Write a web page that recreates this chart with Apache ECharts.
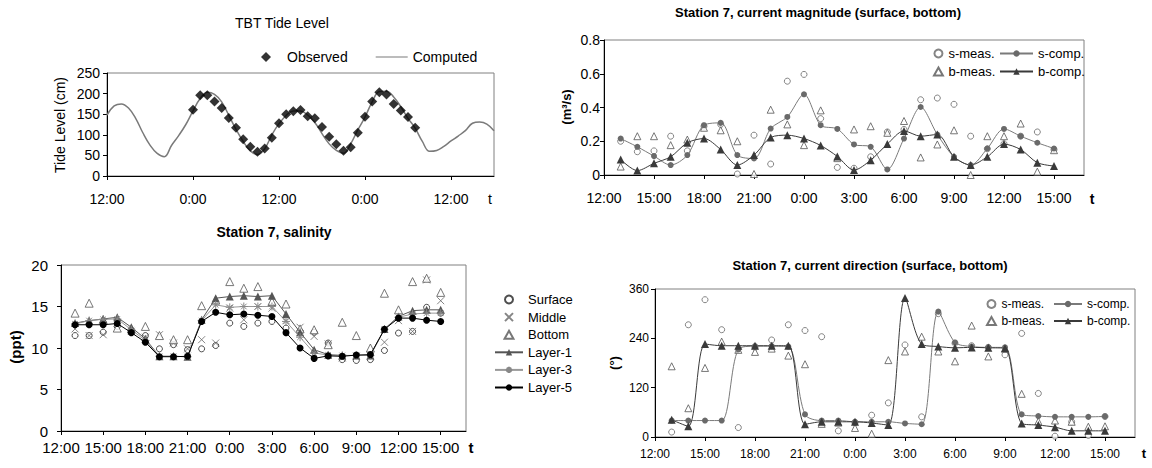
<!DOCTYPE html>
<html><head><meta charset="utf-8">
<script src="https://cdn.jsdelivr.net/npm/echarts@6/dist/echarts.min.js"></script>
<style>html,body{margin:0;padding:0;background:#fff}#c{width:1152px;height:468px}</style>
</head><body><div id="c"></div>
<script>
// ---------- Panel 1: TBT tide level (hours after 12:00 of day 1) ----------
const tideObsHours = [12,13,14,15,16,17,18,19,20,21,22,23,24,25,26,27,28,29,30,31,32,33,34,35,36,37,38,39,40,41,42,43];
const tideObs = [161,196,196,181,165,141,117,89,71,59,67,93,128,150,157,160,145,140,119,95,77,61,70,105,144,181,203,198,175,159,143,117];
const tideCompHours = [0,1,2,3,4,5,6,7,8,9,10,11,12,13,14,15,16,17,18,19,20,21,22,23,24,25,26,27,28,29,30,31,32,33,34,35,36,37,38,39,40,41,42,43,44,45,46,47,48,49,50,51,52,53,54];
const tideComp = [148,170,175,165,140,105,75,55,47,74,98,125,158,188,203,198,180,147,113,84,61,52,66,100,127,147,158,158,148,130,103,78,62,55,78,112,143,180,205,206,192,168,140,116,84,60,62,72,85,97,110,128,131,126,110];
const tideTicks = [0,12,24,36,48];
const tideTickLabels = ['12:00','0:00','12:00','0:00','12:00'];

// ---------- Panels 2-4: hours after 12:00 ----------
const hours = [1,2,3,4,5,6,7,8,9,10,11,12,13,14,15,16,17,18,19,20,21,22,23,24,25,26,27];
const clockTicks = [0,3,6,9,12,15,18,21,24,27];
const clockLabels = ['12:00','15:00','18:00','21:00','0:00','3:00','6:00','9:00','12:00','15:00'];

// Panel 2: current magnitude
const magSMeas = [0.200,0.138,0.143,0.230,0.143,0.289,0.300,0.006,0.236,0.065,0.556,0.596,0.334,0.045,0.040,0.108,0.255,0.270,0.446,0.456,0.419,0.230,0.155,0.185,0.230,0.255,0.151];
const magBMeas = [0.050,0.230,0.230,0.177,0.210,0.280,0.265,0.200,0.006,0.387,0.300,0.177,0.383,0.100,0.270,0.289,0.250,0.320,0.104,0.181,0.265,0.000,0.230,0.230,0.305,0.020,0.147];
const magSComp = [0.216,0.167,0.112,0.059,0.118,0.295,0.309,0.118,0.098,0.275,0.344,0.478,0.295,0.273,0.181,0.167,0.033,0.216,0.403,0.240,0.108,0.059,0.157,0.273,0.230,0.191,0.157];
const magBComp = [0.092,0.026,0.069,0.108,0.191,0.216,0.151,0.059,0.118,0.222,0.236,0.216,0.175,0.110,0.029,0.088,0.183,0.261,0.230,0.240,0.108,0.059,0.108,0.183,0.151,0.073,0.053];

// Panel 3: salinity
const salSurface = [11.5,11.5,11.9,12.6,11.9,11.5,9.9,10.4,9.8,9.9,10.3,13.0,12.6,13.0,13.2,12.4,12.0,11.9,10.6,8.6,8.5,8.6,9.7,11.8,12.0,14.9,14.2];
const salMiddle = [12.3,11.5,11.6,13.0,12.0,11.3,11.6,10.6,9.9,11.0,10.6,14.8,13.4,15.0,14.8,13.3,12.5,11.4,10.5,8.8,9.0,9.0,10.7,13.3,12.0,18.2,15.7];
const salBottom = [14.2,15.4,13.4,12.4,12.3,12.6,11.5,11.0,11.0,15.1,15.8,18.0,17.2,17.4,15.6,15.3,12.3,12.2,10.4,13.1,11.5,10.0,16.6,14.6,18.0,18.4,16.7];
const salLayer1 = [13.0,13.3,13.5,13.7,12.5,11.1,9.0,9.0,8.95,13.4,16.0,16.2,16.3,16.2,16.3,14.1,11.9,9.8,9.2,9.1,9.1,9.1,12.3,13.8,14.5,14.6,14.6];
const salLayer3 = [12.9,13.3,13.45,13.5,12.2,10.9,9.0,9.0,8.95,13.3,15.2,14.9,15.0,15.0,15.0,13.2,11.3,9.4,9.15,9.1,9.1,9.1,12.25,13.7,14.1,14.2,14.2];
const salLayer5 = [12.8,12.8,12.8,12.95,11.85,10.7,8.95,8.95,9.0,13.2,14.3,14.0,14.1,13.95,13.8,11.85,10.0,8.75,9.05,9.0,9.15,9.2,12.25,13.6,13.6,13.35,13.2];

// Panel 4: current direction
const dirSMeas = [12,273,334,261,23,218,236,273,259,244,15,35,53,83,224,49,300,228,222,218,200,252,106,2,37,4,50];
const dirBMeas = [172,70,168,232,212,207,215,198,177,32,35,22,8,187,208,244,208,184,271,196,215,105,38,40,37,25,26];
const dirSComp = [40,40,40,40,213,221,221,220,55,40,40,37,37,37,33,31,305,230,220,218,218,55,51,49,49,49,50];
const dirBComp = [42,26,226,222,222,222,222,222,31,37,37,37,34,29,338,226,220,217,218,217,216,33,29,24,15,15,15];

// ---------- build ----------
const FONT = '"Liberation Sans", Arial, Helvetica, sans-serif';
const pair = (xs, ys) => xs.map((x, i) => [x, ys[i]]);

function xAxisOf(gi, min, max, interval, ticks, labels, fontSize, margin) {
  return {
    type: 'value', gridIndex: gi, min, max, interval,
    axisLine: {show: true, onZero: false, lineStyle: {color: '#000', width: 1}},
    axisTick: {show: true, length: 4, lineStyle: {color: '#000'}, customValues: ticks},
    axisLabel: {color: '#000', fontFamily: FONT, fontSize, margin, customValues: ticks,
      formatter: v => { const k = ticks.indexOf(Math.round(v * 100) / 100); return k >= 0 ? labels[k] : ''; }},
    splitLine: {show: false}
  };
}
function yAxisOf(gi, min, max, interval, fontSize, margin, fmt) {
  return {
    type: 'value', gridIndex: gi, min, max, interval,
    axisLine: {show: true, lineStyle: {color: '#000', width: 1}},
    axisTick: {show: true, length: 4, lineStyle: {color: '#000'}},
    axisLabel: {color: '#000', fontFamily: FONT, fontSize, margin, formatter: fmt},
    splitLine: {show: false}
  };
}

const xMark = 'path://M0,0L10,10M10,0L0,10';
const star = 'path://M5,0L5,10M0,5L10,5M1.5,1.5L8.5,8.5M8.5,1.5L1.5,8.5';
const triIcon = 'path://M5,0L10,9L0,9Z';
const diaIcon = 'path://M5,0L10,5L5,10L0,5Z';
const lineIcon = 'path://M0,0L36,0L36,1.4L0,1.4Z';

function openScatter(name, gi, data, symbol, size, stroke) {
  return {type: 'scatter', name, xAxisIndex: gi, yAxisIndex: gi, data, symbol, symbolSize: size, symbolKeepAspect: true,
    itemStyle: {color: '#fff', borderColor: stroke, borderWidth: 1}, silent: true, z: 2};
}
function compLine(name, gi, data, symbol, size, fill, stroke, smooth) {
  return {type: 'line', name, xAxisIndex: gi, yAxisIndex: gi, data, symbol, symbolSize: size,
    showSymbol: true, smooth, itemStyle: {color: fill, borderColor: fill, borderWidth: 0},
    lineStyle: {color: stroke, width: 1}, silent: true, z: 3};
}

const series = [
  // panel 1
  {type: 'line', name: 'Computed', xAxisIndex: 0, yAxisIndex: 0, data: pair(tideCompHours, tideComp),
   symbol: 'none', smooth: 0.4, lineStyle: {color: '#7a7a7a', width: 1.5}, itemStyle: {color: '#7a7a7a'}, silent: true, z: 2},
  {type: 'scatter', name: 'Observed', xAxisIndex: 0, yAxisIndex: 0, data: pair(tideObsHours, tideObs),
   symbol: 'diamond', symbolSize: 10, itemStyle: {color: '#000'}, silent: true, z: 3},
  // panel 2
  openScatter('s-meas.', 1, pair(hours, magSMeas), 'circle', 6, '#666'),
  openScatter('b-meas.', 1, pair(hours, magBMeas), 'triangle', 7, '#555'),
  compLine('s-comp.', 1, pair(hours, magSComp), 'circle', 6, '#6a6a6a', '#7a7a7a', 0.3),
  compLine('b-comp.', 1, pair(hours, magBComp), 'triangle', 8, '#3a3a3a', '#3a3a3a', 0.3),
  // panel 3
  openScatter('Surface', 2, pair(hours, salSurface), 'circle', 6, '#222'),
  {type: 'scatter', name: 'Middle', xAxisIndex: 2, yAxisIndex: 2, data: pair(hours, salMiddle), symbol: xMark, symbolSize: 7,
   itemStyle: {color: 'rgba(0,0,0,0)', borderColor: '#666', borderWidth: 1}, silent: true, z: 2},
  openScatter('Bottom', 2, pair(hours, salBottom), 'triangle', 8, '#555'),
  {type: 'line', name: 'Layer-1', xAxisIndex: 2, yAxisIndex: 2, data: pair(hours, salLayer1), symbol: 'triangle', symbolSize: 8,
   itemStyle: {color: '#555'}, lineStyle: {color: '#555', width: 1}, silent: true, z: 3},
  {type: 'line', name: 'Layer-3', xAxisIndex: 2, yAxisIndex: 2, data: pair(hours, salLayer3), symbol: star, symbolSize: 8,
   itemStyle: {color: 'rgba(0,0,0,0)', borderColor: '#888', borderWidth: 1}, lineStyle: {color: '#999', width: 1}, silent: true, z: 3},
  {type: 'line', name: 'Layer-5', xAxisIndex: 2, yAxisIndex: 2, data: pair(hours, salLayer5), symbol: 'circle', symbolSize: 7,
   itemStyle: {color: '#000'}, lineStyle: {color: '#000', width: 1}, silent: true, z: 4},
  // panel 4
  openScatter('s-meas.', 3, pair(hours, dirSMeas), 'circle', 6, '#666'),
  openScatter('b-meas.', 3, pair(hours, dirBMeas), 'triangle', 7, '#555'),
  compLine('s-comp.', 3, pair(hours, dirSComp), 'circle', 6, '#6a6a6a', '#7a7a7a', 0.3),
  compLine('b-comp.', 3, pair(hours, dirBComp), 'triangle', 8, '#3a3a3a', '#3a3a3a', 0.3)
];

function txt(text, x, y, font, rot) {
  return {type: 'text', x, y, rotation: rot || 0, silent: true,
    style: {text, x: 0, y: 0, font, fill: '#000', textAlign: 'center', textVerticalAlign: 'middle', verticalAlign: 'middle'}};
}
const R = '"Liberation Sans", Arial, sans-serif';

const legBase = {padding: 0, selectedMode: false, symbolKeepAspect: true, textStyle: {color: '#000', fontFamily: FONT, fontSize: 13}};
const L = o => Object.assign({}, legBase, o);

const option = {
  animation: false,
  backgroundColor: '#fff',
  grid: [
    {left: 107, top: 73, width: 387, height: 103, show: true, borderColor: '#808080', borderWidth: 1, backgroundColor: 'transparent'},
    {left: 604, top: 40, width: 480, height: 135, show: true, borderColor: '#808080', borderWidth: 1, backgroundColor: 'transparent'},
    {left: 61, top: 265, width: 405, height: 166, show: true, borderColor: '#808080', borderWidth: 1, backgroundColor: 'transparent'},
    {left: 655, top: 289, width: 480, height: 148, show: true, borderColor: '#808080', borderWidth: 1, backgroundColor: 'transparent'}
  ],
  xAxis: [
    xAxisOf(0, 0, 54, 12, tideTicks, tideTickLabels, 14, 16),
    xAxisOf(1, 0, 28.8, 3, clockTicks, clockLabels, 14, 16),
    xAxisOf(2, 0, 28.8, 3, clockTicks, clockLabels, 15, 9),
    xAxisOf(3, 0, 28.8, 3, clockTicks, clockLabels, 12, 11)
  ],
  yAxis: [
    yAxisOf(0, 0, 250, 50, 14, 7),
    yAxisOf(1, 0, 0.8, 0.2, 14, 4, v => v === 0 ? '0' : v.toFixed(1)),
    yAxisOf(2, 0, 20, 5, 15, 13),
    yAxisOf(3, 0, 360, 120, 12, 6)
  ],
  legend: [
    L({data: [{name: 'Observed', icon: diaIcon}, {name: 'Computed', icon: lineIcon}], left: 261, top: 50, orient: 'horizontal',
      itemWidth: 32, itemHeight: 10, itemGap: 28, textStyle: {color: '#000', fontFamily: FONT, fontSize: 14}}),
    L({data: ['s-meas.', {name: 'b-meas.', icon: triIcon}], left: 933, top: 47, orient: 'vertical', itemWidth: 10, itemHeight: 8, itemGap: 5}),
    L({data: ['s-comp.', 'b-comp.'], left: 999, top: 47, orient: 'vertical', itemWidth: 33, itemHeight: 8, itemGap: 5}),
    L({data: ['Surface', 'Middle', {name: 'Bottom', icon: triIcon}, 'Layer-1', 'Layer-3', 'Layer-5'], left: 494, top: 293, orient: 'vertical',
      itemWidth: 28, itemHeight: 8, itemGap: 4.6}),
    L({data: ['s-meas.', {name: 'b-meas.', icon: triIcon}], left: 986, top: 298, orient: 'vertical', itemWidth: 10, itemHeight: 8, itemGap: 5,
      textStyle: {color: '#000', fontFamily: FONT, fontSize: 12}}),
    L({data: ['s-comp.', 'b-comp.'], left: 1053, top: 298, orient: 'vertical', itemWidth: 28, itemHeight: 8, itemGap: 5,
      textStyle: {color: '#000', fontFamily: FONT, fontSize: 12}})
  ],
  graphic: [
    txt('TBT Tide Level', 282, 23, '14px ' + R),
    txt('Station 7, current magnitude (surface, bottom)', 818, 12, 'bold 13px ' + R),
    txt('Station 7, salinity', 274, 232, 'bold 14px ' + R),
    txt('Station 7, current direction (surface, bottom)', 870, 265, 'bold 13px ' + R),
    txt('Tide Level (cm)', 60, 125, '14px ' + R, Math.PI / 2),
    txt('(m³/s)', 566, 107, 'bold 13px ' + R, Math.PI / 2),
    txt('(ppt)', 15, 347, 'bold 15px ' + R, Math.PI / 2),
    txt('(°)', 614, 363, 'bold 13px ' + R, Math.PI / 2),
    txt('t', 490, 199, '14px ' + R),
    txt('t', 1092, 199, 'bold 14px ' + R),
    txt('t', 471, 447, 'bold 15px ' + R),
    txt('t', 1144, 453, 'bold 13px ' + R)
  ],
  series
};

const chart = echarts.init(document.getElementById('c'), null, {renderer: 'svg', width: 1152, height: 468});
chart.setOption(option);
</script>
</body></html>
